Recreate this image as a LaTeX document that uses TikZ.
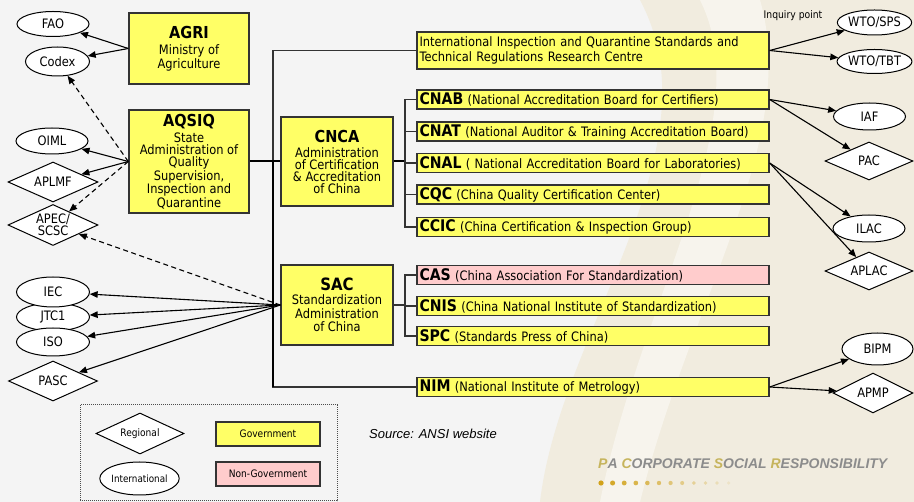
\documentclass[tikz,border=0pt]{standalone}
\usepackage{fontspec}
\setmainfont{DejaVu Sans}[FakeStretch=0.88]
\newfontfamily\arialf{Liberation Sans}
\usetikzlibrary{shapes.geometric,arrows.meta}
\definecolor{govy}{HTML}{FFFF66}
\definecolor{ngpink}{HTML}{FFCCCC}
\definecolor{bord}{HTML}{333333}
\definecolor{bgg}{HTML}{F4F4F4}
\definecolor{beig}{HTML}{F1ECDF}
\definecolor{goldc}{HTML}{C6B45C}
\definecolor{grayc}{HTML}{8C8C8C}
\definecolor{dotc}{HTML}{D2A21A}
\newcommand\myfs[2]{\fontsize{#1}{#2}\selectfont}
\begin{document}
\begin{tikzpicture}[x=1pt,y=-1pt,
  govbox/.style={draw=bord,line width=1.4pt,fill=govy,inner sep=0pt,align=center},
  rowbox/.style={govbox,align=left,text width=347pt,inner xsep=2.5pt,minimum height=19pt,font=\myfs{13}{14}},
  ell/.style={ellipse,draw=black,line width=1pt,fill=white,inner sep=0pt,font=\myfs{13}{13}},
  dia/.style={diamond,draw=black,line width=1pt,fill=white,inner sep=0pt,aspect=2.2,align=center,font=\myfs{13}{10.5}},
  arr/.style={draw=black,line width=1.1pt,-{Triangle[length=8pt,width=6.5pt]}},
  dash/.style={dash pattern=on 5pt off 3.5pt},
  conn/.style={draw=bord,line width=1.3pt},
  thickconn/.style={draw=black,line width=2pt},
]
% background
\fill[bgg] (0,0) rectangle (914,502);
\useasboundingbox (0,0) rectangle (914,502);
\fill[beig] (640,0) .. controls (720,150) and (560,330) .. (540,502) -- (914,502) -- (914,0) -- cycle;
\fill[white,opacity=0.45] (700,0) .. controls (760,120) and (640,300) .. (600,502) -- (640,502) .. controls (690,300) and (800,140) .. (760,0) -- cycle;

% left organisations
\node[govbox,minimum width=120pt,minimum height=71pt,font=\myfs{13}{12}] (agri) at (189,48.5)
  {\textbf{\myfs{16.5}{16}AGRI}\\[4pt]Ministry of\\Agriculture};
\node[govbox,minimum width=120pt,minimum height=103pt,font=\myfs{13}{12}] (aqsiq) at (189,161.5)
  {\textbf{\myfs{16.5}{16}AQSIQ}\\[3pt]State\\Administration of\\Quality\\Supervision,\\Inspection and\\Quarantine};
\node[govbox,minimum width=112pt,minimum height=89pt,font=\myfs{13}{12}] (cnca) at (337,161.5)
  {\textbf{\myfs{16.5}{16}CNCA}\\[3pt]Administration\\of Certification\\\& Accreditation\\of China};
\node[govbox,minimum width=112pt,minimum height=80pt,font=\myfs{13}{13.5}] (sac) at (337,305)
  {\textbf{\myfs{17}{16}SAC}\\[1pt]Standardization\\Administration\\of China};

% right column boxes
\node[govbox,align=left,text width=347pt,inner xsep=2.5pt,minimum height=37pt,font=\myfs{13}{15}] (iiq) at (593,50.5)
  {International Inspection and Quarantine Standards and\\Technical Regulations Research Centre};
\node[rowbox] (cnab) at (593,99.5) {\textbf{\myfs{16}{16}CNAB} (National Accreditation Board for Certifiers)};
\node[rowbox] (cnat) at (593,131.5) {\textbf{\myfs{16}{16}CNAT} (National Auditor \& Training Accreditation Board)};
\node[rowbox] (cnal) at (593,163) {\textbf{\myfs{16}{16}CNAL} ( National Accreditation Board for Laboratories)};
\node[rowbox] (cqc) at (593,194.5) {\textbf{\myfs{16}{16}CQC} (China Quality Certification Center)};
\node[rowbox] (ccic) at (593,227) {\textbf{\myfs{16}{16}CCIC} (China Certification \& Inspection Group)};
\node[rowbox,fill=ngpink] (cas) at (593,275) {\textbf{\myfs{16}{16}CAS} (China Association For Standardization)};
\node[rowbox] (cnis) at (593,306) {\textbf{\myfs{16}{16}CNIS} (China National Institute of Standardization)};
\node[rowbox] (spc) at (593,336) {\textbf{\myfs{16}{16}SPC} (Standards Press of China)};
\node[rowbox] (nim) at (593,387) {\textbf{\myfs{16}{16}NIM} (National Institute of Metrology)};

% left international / regional bodies
\node[ell,minimum width=72pt,minimum height=25pt] (fao) at (53,24) {FAO};
\node[ell,minimum width=64pt,minimum height=29pt] (codex) at (57.5,61.5) {Codex};
\node[ell,minimum width=72pt,minimum height=26pt] (oiml) at (52,141) {OIML};
\node[dia,minimum width=90pt,minimum height=40pt] (aplmf) at (53,182) {APLMF};
\node[dia,minimum width=90pt,minimum height=41pt] (apec) at (53,225) {APEC/\\SCSC};
\node[ell,minimum width=73pt,minimum height=28pt] (jtc) at (53,317) {JTC1};
\node[ell,minimum width=73pt,minimum height=30pt] (iec) at (53,292) {IEC};
\node[ell,minimum width=73pt,minimum height=28pt] (iso) at (53,342) {ISO};
\node[dia,minimum width=89pt,minimum height=40pt] (pasc) at (53,381) {PASC};

% right international / regional bodies
\node[font=\myfs{10.5}{10.5}] (inq) at (793,16) {Inquiry point};
\node[ell,minimum width=66pt,minimum height=25pt] (wtosps) at (874.5,22.5) {WTO/SPS};
\node[ell,minimum width=66pt,minimum height=24pt] (wtotbt) at (874.5,61.5) {WTO/TBT};
\node[ell,minimum width=72pt,minimum height=27pt] (iaf) at (869.5,116.5) {IAF};
\node[dia,minimum width=88pt,minimum height=38pt] (pac) at (869,161) {PAC};
\node[ell,minimum width=72pt,minimum height=27pt] (ilac) at (869,228.5) {ILAC};
\node[dia,minimum width=88pt,minimum height=38pt] (aplac) at (869,271) {APLAC};
\node[ell,minimum width=71pt,minimum height=32pt] (bipm) at (877.5,349) {BIPM};
\node[dia,minimum width=80pt,minimum height=40pt] (apmp) at (873,393) {APMP};

% spine and brackets
\coordinate (sp) at (273,0);
\coordinate (b1) at (405,0);
\draw[conn] (iiq.west) -| (nim.west -| sp) -- (nim.west);
\draw[thickconn] (aqsiq.east) -- (cnca.west);
\draw[thickconn] (aqsiq.east -| sp) -- (nim.west -| sp);
\draw[thickconn] (cnca.east) -- (cnca.east -| b1);
\draw[conn] (cnab.west) -- (cnab.west -| b1) -- (ccic.west -| b1) -- (ccic.west);
\foreach \n in {cnat,cnal,cqc} \draw[conn] (\n.west) -- (\n.west -| b1);
\draw[conn] (sac.east) -- (sac.east -| b1);
\draw[conn] (cas.west) -- (cas.west -| b1) -- (spc.west -| b1) -- (spc.west);
\draw[conn] (cnis.west) -- (cnis.west -| b1);

% arrows left
\draw[arr] (agri.west) -- (fao);
\draw[arr] (agri.west) -- (codex);
\draw[arr] (aqsiq.west) -- (oiml);
\draw[arr] (aqsiq.west) -- (aplmf);
\draw[arr,dash pattern=on 5pt off 3.5pt] (aqsiq.west) -- (codex);
\draw[arr,dash pattern=on 5pt off 3.5pt] (aqsiq.west) -- (apec);
\draw[arr,dash pattern=on 5pt off 3.5pt] (sac.west) -- (apec);
\draw[arr] (sac.west) -- (iec);
\draw[arr] (sac.west) -- (jtc);
\draw[arr] (sac.west) -- (iso);
\draw[arr] (sac.west) -- (pasc);

% arrows right
\draw[arr] (iiq.east) -- (wtosps);
\draw[arr] (iiq.east) -- (wtotbt);
\draw[arr] (cnab.east) -- (iaf);
\draw[arr] (cnab.east) -- (pac);
\draw[arr] (cnal.east) -- (ilac);
\draw[arr] (cnal.east) -- (aplac);
\draw[arr] (nim.east) -- (bipm);
\draw[arr] (nim.east) -- (apmp);

% legend
\node[draw=gray!60!black,densely dotted,line width=1pt,minimum width=257pt,minimum height=96pt,inner sep=0pt] (legbox) at (208.5,453) {};
\node[dia,minimum width=88pt,minimum height=41pt,font=\myfs{10.3}{10}] (lreg) at (140,433.5) {Regional};
\node[ell,minimum width=73pt,minimum height=33pt,font=\myfs{10}{10}] (lint) at (139.5,478.5) {International};
\node[govbox,minimum width=104pt,minimum height=24pt,font=\myfs{10.3}{10}] (lgov) at (268,434) {Government};
\node[govbox,fill=ngpink,minimum width=104pt,minimum height=24pt,font=\myfs{10.3}{10}] (lngov) at (268,474) {Non-Government};

% source and footer
\node[anchor=west,inner sep=0pt,font=\arialf\itshape\myfs{13}{13}] (src) at (369,434) {Source: ANSI website};
\node[anchor=west,inner sep=0pt,font=\arialf\bfseries\itshape\myfs{14}{14},text=grayc] (pacsr) at (598,464)
  {\textcolor{goldc}{P}A \textcolor{goldc}{C}ORPORATE \textcolor{goldc}{S}OCIAL \textcolor{goldc}{R}ESPONSIBILITY};
\foreach \i in {0,...,11} {
  \pgfmathsetmacro\op{1-0.08*\i}
  \pgfmathsetmacro\rr{2.6-0.08*\i}
  \fill[dotc,opacity=\op] (601+11.6*\i,483) circle (\rr pt);
}
\end{tikzpicture}
\end{document}
